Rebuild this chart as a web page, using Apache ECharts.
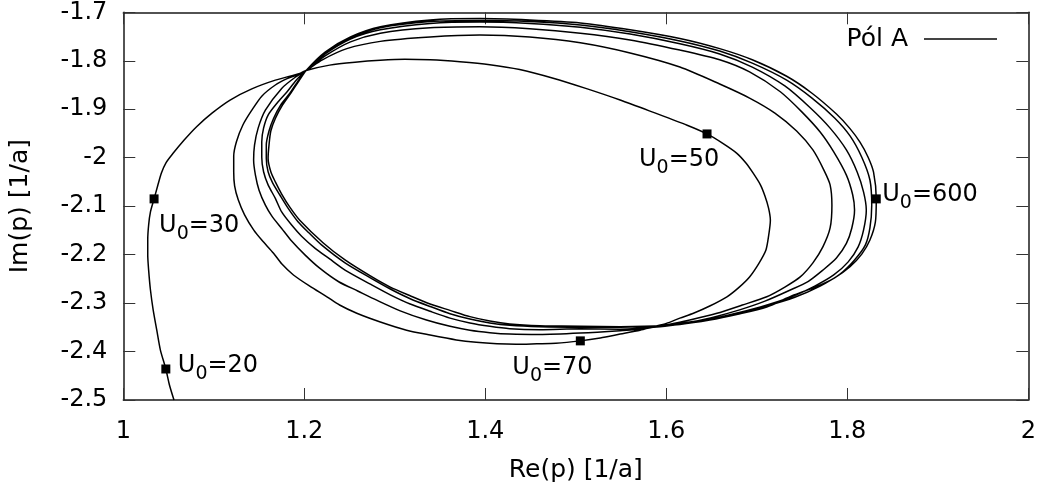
<!DOCTYPE html>
<html>
<head>
<meta charset="utf-8">
<script src="https://cdn.jsdelivr.net/npm/echarts@6/dist/echarts.min.js"></script>
<style>
  html, body { margin: 0; padding: 0; background: #fff; }
  #chart { width: 1043px; height: 493px; }
</style>
</head>
<body>
<div id="chart"></div>
<script>
// Axis ranges and tick steps
const xMin = 1, xMax = 2, xStep = 0.2;
const yMin = -2.5, yMax = -1.7, yStep = 0.1;

// Trajectory of pole A as U0 grows, [Re(p), Im(p)] in 1/a, split into successive turns
const approach = [
  [1.056,-2.500],[1.051,-2.469],[1.047,-2.436],[1.041,-2.397],[1.037,-2.356],[1.033,-2.314],
  [1.030,-2.273],[1.028,-2.232],[1.027,-2.201],[1.027,-2.170],[1.028,-2.139],[1.030,-2.112],
  [1.034,-2.085],[1.038,-2.058],[1.042,-2.032],[1.047,-2.011],[1.055,-1.991],[1.067,-1.964],
  [1.081,-1.936],[1.098,-1.908],[1.118,-1.881],[1.142,-1.858],[1.168,-1.840],[1.195,-1.826],
  [1.202,-1.820]
];
const turn0 = [
  [1.228,-1.809],[1.256,-1.803],[1.284,-1.799],[1.311,-1.797],[1.339,-1.798],[1.372,-1.802],
  [1.405,-1.808],[1.438,-1.818],[1.475,-1.836],[1.511,-1.857],[1.549,-1.881],[1.585,-1.906],
  [1.623,-1.933],[1.645,-1.951],[1.662,-1.970],[1.678,-1.991],[1.688,-2.011],[1.696,-2.032],
  [1.704,-2.056],[1.709,-2.079],[1.713,-2.104],[1.715,-2.129],[1.713,-2.162],[1.710,-2.191],
  [1.702,-2.219],[1.692,-2.246],[1.680,-2.268],[1.667,-2.287],[1.648,-2.306],[1.630,-2.321],
  [1.615,-2.331],[1.600,-2.342],[1.585,-2.349],[1.571,-2.356],[1.549,-2.364],[1.527,-2.372],
  [1.505,-2.378],[1.478,-2.383],[1.457,-2.384],[1.434,-2.385],[1.413,-2.384],[1.390,-2.381],
  [1.368,-2.376],[1.339,-2.366],[1.313,-2.356],[1.284,-2.339],[1.258,-2.321],[1.239,-2.304],
  [1.225,-2.287]
];
const turn1 = [
  [1.206,-2.265],[1.188,-2.242],[1.175,-2.219],[1.166,-2.197],[1.153,-2.170],[1.144,-2.149],
  [1.134,-2.118],[1.127,-2.087],[1.123,-2.058],[1.122,-2.029],[1.122,-1.997],[1.125,-1.967],
  [1.132,-1.933],[1.142,-1.902],[1.153,-1.873],[1.168,-1.850],[1.181,-1.837],[1.192,-1.829],
  [1.202,-1.820],[1.220,-1.798],[1.247,-1.775],[1.284,-1.760],[1.339,-1.751],[1.394,-1.747],
  [1.449,-1.751],[1.505,-1.763],[1.560,-1.784],[1.615,-1.813],[1.659,-1.848],[1.692,-1.877],
  [1.720,-1.908],[1.744,-1.945],[1.762,-1.984],[1.774,-2.025],[1.781,-2.056],[1.783,-2.098],
  [1.781,-2.145],[1.773,-2.184],[1.762,-2.217],[1.748,-2.246],[1.731,-2.267],[1.711,-2.287],
  [1.684,-2.304],[1.656,-2.321],[1.626,-2.335],[1.600,-2.345],[1.576,-2.353],[1.549,-2.357],
  [1.505,-2.362],[1.460,-2.365],[1.427,-2.364],[1.405,-2.361],[1.383,-2.356],[1.361,-2.348],
  [1.335,-2.335],[1.306,-2.316],[1.280,-2.294],[1.259,-2.275],[1.238,-2.256]
];
const turn2 = [
  [1.217,-2.228],[1.201,-2.201],[1.186,-2.172],[1.175,-2.146],[1.164,-2.120],[1.157,-2.098],
  [1.150,-2.067],[1.146,-2.036],[1.144,-2.005],[1.145,-1.974],[1.149,-1.939],[1.157,-1.902],
  [1.175,-1.857],[1.190,-1.834],[1.202,-1.820],[1.223,-1.790],[1.251,-1.761],[1.284,-1.743],
  [1.339,-1.732],[1.394,-1.730],[1.449,-1.734],[1.505,-1.743],[1.560,-1.757],[1.615,-1.778],
  [1.659,-1.798],[1.692,-1.823],[1.726,-1.864],[1.750,-1.906],[1.770,-1.947],[1.785,-1.988],
  [1.799,-2.036],[1.806,-2.077],[1.808,-2.108],[1.805,-2.145],[1.799,-2.177],[1.788,-2.207],
  [1.773,-2.232],[1.757,-2.255],[1.737,-2.273],[1.709,-2.296],[1.681,-2.314],[1.650,-2.330],
  [1.619,-2.342],[1.593,-2.349],[1.549,-2.354],[1.505,-2.353],[1.460,-2.355],[1.427,-2.353],
  [1.405,-2.348],[1.383,-2.341],[1.361,-2.331],[1.339,-2.317],[1.317,-2.302],[1.295,-2.283],
  [1.273,-2.261],[1.245,-2.232]
];
const turn3 = [
  [1.228,-2.209],[1.212,-2.187],[1.197,-2.162],[1.186,-2.139],[1.175,-2.112],[1.168,-2.084],
  [1.160,-2.056],[1.155,-2.029],[1.153,-1.999],[1.153,-1.967],[1.155,-1.939],[1.160,-1.912],
  [1.170,-1.887],[1.181,-1.864],[1.191,-1.840],[1.202,-1.820],[1.223,-1.786],[1.251,-1.755],
  [1.284,-1.736],[1.339,-1.723],[1.394,-1.720],[1.449,-1.723],[1.505,-1.731],[1.560,-1.745],
  [1.615,-1.765],[1.659,-1.786],[1.695,-1.813],[1.731,-1.852],[1.759,-1.897],[1.781,-1.939],
  [1.799,-1.984],[1.811,-2.030],[1.818,-2.071],[1.821,-2.108],[1.818,-2.149],[1.812,-2.184],
  [1.801,-2.215],[1.785,-2.242],[1.764,-2.265],[1.737,-2.288],[1.704,-2.308],[1.668,-2.325],
  [1.632,-2.338],[1.593,-2.347],[1.549,-2.350],[1.505,-2.350],[1.460,-2.349],[1.427,-2.346],
  [1.405,-2.341],[1.383,-2.333],[1.361,-2.322],[1.339,-2.307],[1.317,-2.291],[1.295,-2.271],
  [1.273,-2.248],[1.245,-2.217]
];
const turn4 = [
  [1.219,-2.180],[1.205,-2.155],[1.193,-2.132],[1.182,-2.104],[1.173,-2.077],[1.165,-2.052],
  [1.160,-2.029],[1.158,-2.001],[1.158,-1.974],[1.161,-1.945],[1.166,-1.919],[1.174,-1.891],
  [1.184,-1.867],[1.193,-1.842],[1.202,-1.820],[1.223,-1.784],[1.251,-1.753],[1.284,-1.732],
  [1.339,-1.719],[1.394,-1.717],[1.449,-1.719],[1.505,-1.726],[1.560,-1.740],[1.615,-1.759],
  [1.659,-1.780],[1.695,-1.805],[1.733,-1.840],[1.761,-1.877],[1.786,-1.918],[1.803,-1.955],
  [1.816,-1.999],[1.825,-2.046],[1.827,-2.098],[1.825,-2.145],[1.820,-2.180],[1.808,-2.211],
  [1.792,-2.240],[1.770,-2.265],[1.742,-2.288],[1.709,-2.307],[1.673,-2.324],[1.637,-2.336],
  [1.598,-2.346],[1.549,-2.349],[1.505,-2.349],[1.460,-2.347],[1.427,-2.343],[1.405,-2.337],
  [1.383,-2.328],[1.361,-2.315],[1.339,-2.302],[1.317,-2.285],[1.295,-2.267],[1.273,-2.244],
  [1.245,-2.211]
];
const turn5 = [
  [1.221,-2.176],[1.195,-2.129],[1.184,-2.102],[1.175,-2.075],[1.168,-2.050],[1.163,-2.029],
  [1.160,-2.001],[1.161,-1.974],[1.163,-1.945],[1.168,-1.919],[1.176,-1.891],[1.185,-1.867],
  [1.194,-1.842],[1.202,-1.820],[1.223,-1.782],[1.251,-1.751],[1.284,-1.730],[1.339,-1.716],
  [1.394,-1.713],[1.449,-1.716],[1.505,-1.722],[1.560,-1.736],[1.615,-1.754],[1.659,-1.775],
  [1.695,-1.798],[1.733,-1.832],[1.761,-1.867],[1.788,-1.910],[1.803,-1.940],[1.814,-1.968],
  [1.823,-1.999],[1.829,-2.030],[1.832,-2.085],[1.831,-2.133],[1.825,-2.170],[1.816,-2.199],
  [1.803,-2.225],[1.786,-2.248],[1.766,-2.266],[1.739,-2.285],[1.711,-2.308],[1.679,-2.323],
  [1.648,-2.335],[1.615,-2.344],[1.582,-2.348],[1.549,-2.349],[1.505,-2.348],[1.460,-2.347]
];

// Labelled points along the track
const markerU0 = [20, 30, 50, 70, 600];
const markerRe = [1.047, 1.034, 1.645, 1.505, 1.832];
const markerIm = [-2.436, -2.085, -1.951, -2.378, -2.085];

// Label placement (pixels from each marker)
const labelOffsets = [[12, 1], [5, 31], [-68, 30], [-68, 31], [6, 0]];

const FONT = 'DejaVu Sans';
const track = [].concat(approach, turn0, turn1, turn2, turn3, turn4, turn5);

const markers = markerU0.map((u, i) => ({
  value: [markerRe[i], markerIm[i]],
  name: String(u),
  label: { offset: labelOffsets[i] }
}));

const frameLine = { show: true, lineStyle: { color: '#1a1a1a', width: 1.5 } };
const innerTicks = { show: true, inside: true, length: 12, lineStyle: { color: '#333', width: 1 } };

const chart = echarts.init(document.getElementById('chart'), null, { renderer: 'canvas' });
chart.setOption({
  animation: false,
  backgroundColor: '#fff',
  textStyle: { fontFamily: FONT },
  grid: { left: 123.3, right: 14.7, top: 12.3, bottom: 93 },
  legend: {
    data: [{ name: 'Pól A', icon: 'rect' }],
    right: 41,
    top: 20,
    align: 'right',
    itemWidth: 73,
    itemHeight: 2,
    itemGap: 0,
    itemStyle: { color: '#444', borderWidth: 0 },
    textStyle: { fontFamily: FONT, fontSize: 25, color: '#000', padding: [0, 11, 0, 0], lineHeight: 28 }
  },
  xAxis: [
    {
      type: 'value', min: xMin, max: xMax, interval: xStep,
      position: 'bottom',
      name: 'Re(p) [1/a]', nameLocation: 'middle', nameGap: 58,
      nameTextStyle: { fontFamily: FONT, fontSize: 25, color: '#000' },
      axisLine: frameLine, axisTick: innerTicks,
      axisLabel: { margin: 20, fontFamily: FONT, fontSize: 24, color: '#000' },
      splitLine: { show: false }
    },
    {
      type: 'value', min: xMin, max: xMax, interval: xStep,
      position: 'top',
      axisLine: frameLine, axisTick: innerTicks,
      axisLabel: { show: false }, splitLine: { show: false }
    }
  ],
  yAxis: [
    {
      type: 'value', min: yMin, max: yMax, interval: yStep,
      position: 'left',
      name: 'Im(p) [1/a]', nameLocation: 'middle', nameGap: 90, nameRotate: 90,
      nameTextStyle: { fontFamily: FONT, fontSize: 25, color: '#000' },
      axisLine: frameLine, axisTick: innerTicks,
      axisLabel: { margin: 16, fontFamily: FONT, fontSize: 24, color: '#000' },
      splitLine: { show: false }
    },
    {
      type: 'value', min: yMin, max: yMax, interval: yStep,
      position: 'right',
      axisLine: frameLine, axisTick: innerTicks,
      axisLabel: { show: false }, splitLine: { show: false }
    }
  ],
  series: [
    {
      name: 'Pól A',
      type: 'line',
      data: track,
      symbol: 'none',
      showSymbol: false,
      smooth: 0.25,
      lineStyle: { color: '#000', width: 1.5 },
      itemStyle: { color: '#000' },
      emphasis: { disabled: true },
      z: 2
    },
    {
      name: 'U0',
      type: 'scatter',
      data: markers,
      symbol: 'rect',
      symbolSize: 9,
      itemStyle: { color: '#000', opacity: 1 },
      emphasis: { disabled: true },
      z: 3,
      label: {
        show: true,
        position: 'inside',
        align: 'left',
        verticalAlign: 'middle',
        color: '#000',
        textBorderWidth: 0,
        formatter: p => '{u|U}{s|0}{u|=' + p.name + '}',
        rich: {
          u: { fontFamily: FONT, fontSize: 24, lineHeight: 28, color: '#000', verticalAlign: 'bottom', padding: [0, 0, 6, 0] },
          s: { fontFamily: FONT, fontSize: 19, lineHeight: 22, color: '#000', verticalAlign: 'bottom' }
        }
      }
    }
  ]
});
</script>
</body>
</html>
